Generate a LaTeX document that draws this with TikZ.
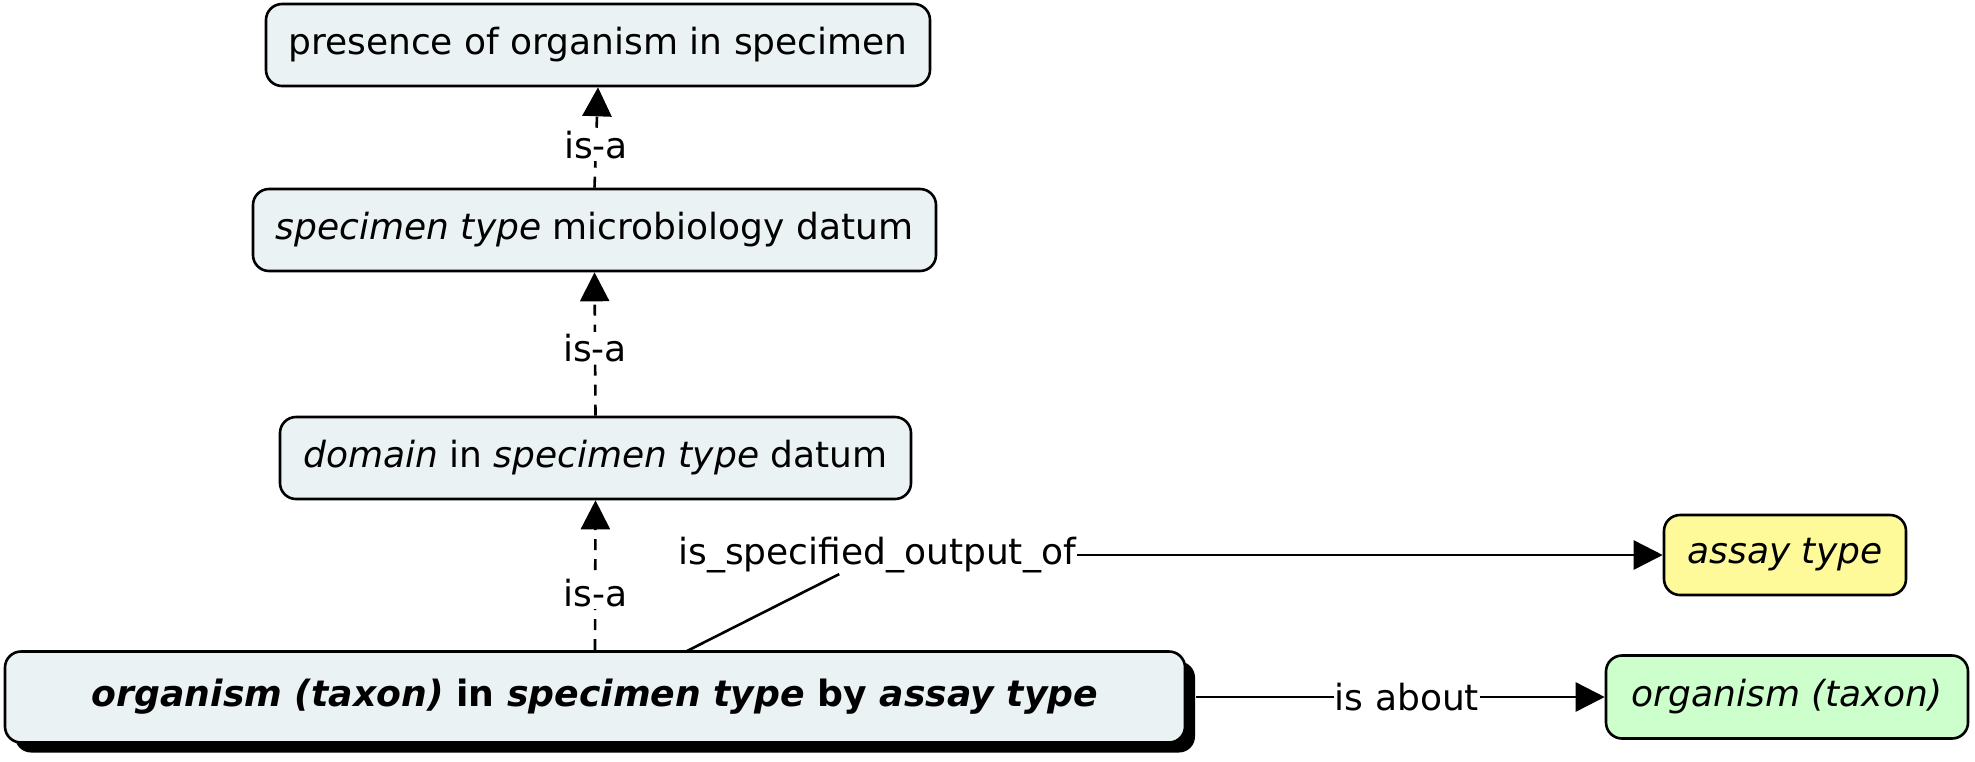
\documentclass[tikz,border=0pt]{standalone}
\usepackage{fontspec}
\setmainfont{DejaVu Sans}
\usetikzlibrary{arrows.meta,shadows}
\definecolor{boxfill}{HTML}{EBF2F4}
\definecolor{yellowfill}{HTML}{FFFA99}
\definecolor{greenfill}{HTML}{CCFFCC}
\begin{document}
\begin{tikzpicture}[x=1pt,y=-1pt,
  box/.style={draw=black, line width=2.6pt, rounded corners=16pt, fill=boxfill,
    inner sep=0pt, font=\fontsize{36}{43}\selectfont, align=center},
  lab/.style={fill=white, inner sep=2pt, font=\fontsize{36}{43}\selectfont},
  tip/.style={-{Triangle[length=29pt,width=29pt]}},
  isa/.style={tip, line width=2.6pt, dash pattern=on 11pt off 9pt},
  rel/.style={line width=2.6pt}
]
\useasboundingbox (0,0) rectangle (1975,761);

\node[box, minimum width=664pt, minimum height=82pt] (n1) at (598,45) {presence of organism in specimen};
\node[box, minimum width=683pt, minimum height=82pt] (n2) at (594.5,230) {\itshape specimen type\upshape{} microbiology datum};
\node[box, minimum width=631pt, minimum height=82pt] (n3) at (595.5,458) {\itshape domain\upshape{} in \itshape specimen type\upshape{} datum};
\node[box, minimum width=1180pt, minimum height=91pt, font=\fontsize{36.2}{44}\selectfont\bfseries,
  drop shadow={shadow xshift=10pt, shadow yshift=-10pt, fill=black, opacity=1}] (main) at (595,697)
  {\itshape organism (taxon)\upshape{} in \itshape specimen type\upshape{} by \itshape assay type};
\node[box, fill=yellowfill, minimum width=242pt, minimum height=80pt] (assay) at (1785,555) {\itshape assay type};
\node[box, fill=greenfill, minimum width=362pt, minimum height=83pt] (org) at (1787,697) {\itshape organism (taxon)};

\draw[isa] (main.north) -- node[lab, pos=0.38] {is-a} (n3.south);
\draw[isa] (n3.north) -- node[lab, pos=0.47] {is-a} (n2.south);
\draw[isa] (n2.north) -- node[lab, pos=0.42] {is-a} (n1.south);

\node[lab, inner sep=1pt] (sol) at (877,555) {is\_specified\_output\_of};
\coordinate (solstart) at (685,652);
\draw[rel] (solstart) -- (sol);
\draw[rel, tip] (sol.east) -- (assay.west);

\node[lab, inner sep=1pt] (about) at (1407,697) {is about};
\draw[rel] (main.east) ++(10pt,0) -- (about.west);
\draw[rel, tip] (about.east) -- (org.west);
\end{tikzpicture}
\end{document}
